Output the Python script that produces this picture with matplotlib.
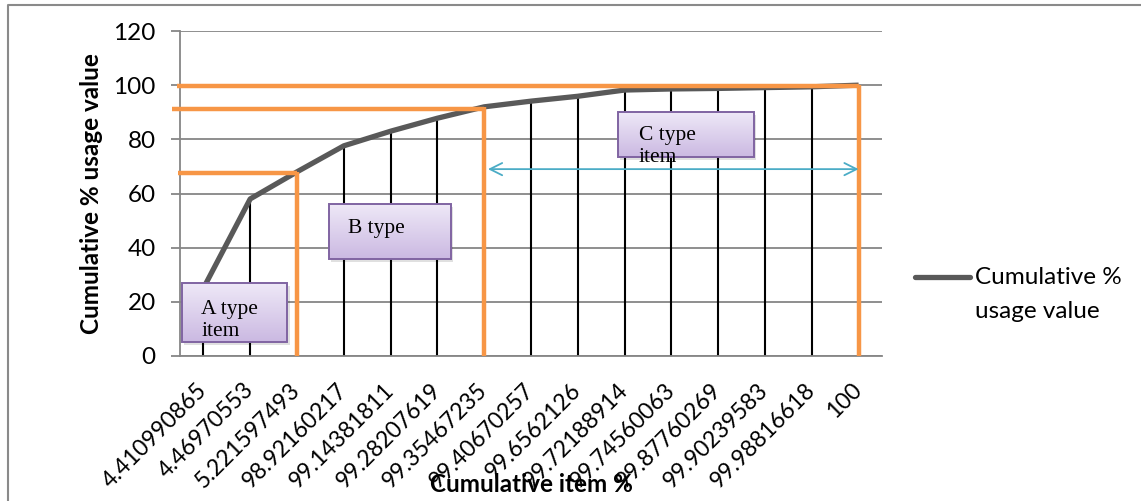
import numpy as np
import matplotlib
matplotlib.use("Agg")
import matplotlib.pyplot as plt
from matplotlib.patches import Rectangle
from matplotlib.lines import Line2D

## -- data
item_pct = ["4.410990865", "4.46970553", "5.221597493", "98.92160217",
            "99.14381811", "99.28207619", "99.35467235", "99.40670257",
            "99.6562126", "99.72188914", "99.74560063", "99.87760269",
            "99.90239583", "99.98816618", "100"]
usage_pct = [25, 58, 68, 77.6, 83, 87.8, 92, 94.1, 95.9, 98.2, 98.6,
             98.8, 99.1, 99.4, 100]
series_name = "Cumulative % usage value"

plt.rcParams["font.family"] = ["Lato", "DejaVu Sans"]

W, H = 1141, 501
fig = plt.figure(figsize=(W / 100, H / 100), dpi=100)
ax = fig.add_axes([180 / W, 1 - 356 / H, 702 / W, 325 / H])

x = np.arange(len(item_pct))
grid_c = "#868686"
orange = "#F79646"

# gridlines + axes
ax.set_ylim(0, 120)
ax.set_xlim(-0.5, len(item_pct) - 0.5)
ax.set_yticks(range(0, 121, 20))
ax.yaxis.grid(True, color=grid_c, lw=1.3)
ax.set_axisbelow(True)
for s in ["top", "right"]:
    ax.spines[s].set_visible(False)
ax.spines["left"].set_color(grid_c)
ax.spines["bottom"].set_color(grid_c)
ax.spines["left"].set_linewidth(1.3)
ax.spines["bottom"].set_linewidth(1.3)
ax.tick_params(axis="y", length=6.5, color=grid_c, width=1.3, labelsize=17.5, pad=11)
ax.tick_params(axis="x", length=0, labelsize=16.5, pad=22)
ax.set_xticks(x)
ax.set_xticklabels(item_pct, rotation=45, ha="right", va="center",
                   rotation_mode="anchor")

# drop lines + series
ax.vlines(x, 0, usage_pct, color="black", lw=1.5, zorder=2)
ax.plot(x, usage_pct, color="#595959", lw=3.8, zorder=3, solid_capstyle="butt")

# orange class borders
oc = dict(color=orange, lw=3.2, zorder=4, clip_on=False, solid_capstyle="butt")
ax.plot([x[2], x[2]], [0, usage_pct[2]], **oc)
ax.plot([x[6], x[6]], [0, usage_pct[6]], **oc)
ax.plot([x[14], x[14]], [0, usage_pct[14]], **oc)
ax.plot([-0.54, x[2]], [67.6, 67.6], **oc)
ax.plot([-0.67, x[6]], [91.3, 91.3], **oc)
ax.plot([-0.56, x[14]], [99.6, 99.6], **oc)

# C range arrow
ax.annotate("", xy=(x[14], 69), xytext=(6.08, 69),
            arrowprops=dict(arrowstyle="<->", color="#4BACC6", lw=1.3,
                            mutation_scale=22, shrinkA=0, shrinkB=0),
            zorder=5)

# label boxes
grad = np.linspace(0, 1, 64).reshape(-1, 1)
cmap = matplotlib.colors.LinearSegmentedColormap.from_list("lav", ["#CBB9E2", "#EEE8F7"])

def box(x0, x1, y0, y1, text, tx, ty):
    ax.add_patch(Rectangle((x0 + 0.05, y0 - 1.0), x1 - x0, y1 - y0,
                           facecolor="#000000", alpha=0.12, lw=0, zorder=5))
    ax.imshow(grad, extent=(x0, x1, y0, y1), cmap=cmap, aspect="auto",
              origin="lower", zorder=6)
    ax.add_patch(Rectangle((x0, y0), x1 - x0, y1 - y0, facecolor="none",
                           edgecolor="#8064A2", lw=1.4, zorder=7))
    ax.text(tx, ty, text, family="Liberation Serif", fontsize=15.5,
            va="top", ha="left", zorder=8, linespacing=1.2)

box(-0.46, 1.79, 5.2, 26.9, "A type\nitem", -0.05, 20.5)
box(2.68, 5.29, 35.8, 56.1, "B type", 3.1, 50.5)
box(8.86, 11.76, 73.5, 90.1, "C type\nitem", 9.3, 85.0)

ax.set_xlim(-0.5, len(item_pct) - 0.5)
ax.set_ylim(0, 120)

# axis titles
ax.set_ylabel("Cumulative % usage value", fontsize=17.5, fontweight="bold")
ax.yaxis.set_label_coords((92 - 180) / 702, 0.5)
ax.set_xlabel("Cumulative item %", fontsize=17.5, fontweight="bold")
ax.xaxis.set_label_coords(0.5, (356 - 484) / 325)
ax.xaxis.label.set_va("center")
ax.yaxis.label.set_va("center")

# legend drawn by hand
fig.add_artist(Line2D([915 / W, 970 / W], [1 - 277 / H, 1 - 277 / H],
                      color="#595959", lw=3.8, solid_capstyle="round"))
leg_lines = ["Cumulative %", "usage value"]
for i, t in enumerate(leg_lines):
    fig.text(975 / W, 1 - (277 + 34 * i) / H, t, fontsize=17.5,
             va="center", ha="left")

# outer chart border
fig.add_artist(Line2D([8 / W, 8 / W, 1.0], [0.0, 1 - 4.5 / H, 1 - 4.5 / H],
                      color="#8a8a8a", lw=1.5))

plt.savefig("out.png", dpi=100)
